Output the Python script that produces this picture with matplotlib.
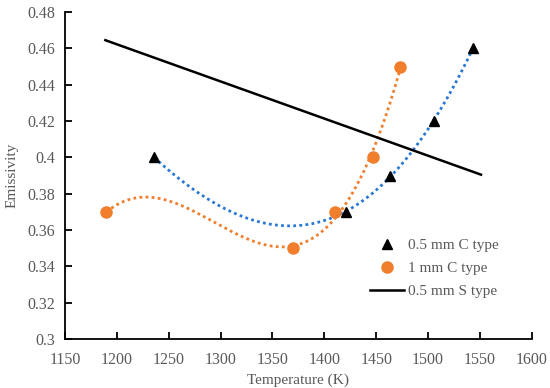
import numpy as np
import matplotlib.pyplot as plt

# 0.5 mm C type (triangles)
temp_c05 = [1236, 1421, 1463, 1506, 1543]
emis_c05 = [0.400, 0.370, 0.390, 0.420, 0.460]

# 1 mm C type (circles)
temp_c1 = [1190, 1370, 1410, 1447, 1473]
emis_c1 = [0.370, 0.350, 0.370, 0.400, 0.450]

# 0.5 mm S type (line)
temp_s05 = [1189, 1551]
emis_s05 = [0.4645, 0.3905]

plt.rcParams['font.family'] = ['Liberation Serif', 'DejaVu Serif']
gray = '#595959'

fig = plt.figure(figsize=(5.5, 3.88), dpi=100)
ax = fig.add_axes([0.118, 0.126, 0.849, 0.843])

# polynomial trendlines (Excel-style)
for t, e, col in [(temp_c05, emis_c05, '#2878D4'), (temp_c1, emis_c1, '#F07E2C')]:
    p = np.polyfit(t, e, 3)
    xs = np.linspace(min(t), max(t), 200)
    ax.plot(xs, np.polyval(p, xs), linestyle=(0, (1, 1.2)), color=col, lw=2)

ax.plot(temp_c05, emis_c05, '^', color='black', ms=7, label='0.5 mm C type', zorder=3)
ax.plot(temp_c1, emis_c1, 'o', color='#F07E2C', ms=8, label='1 mm C type', zorder=3)
ax.plot(temp_s05, emis_s05, '-', color='black', lw=1.8, label='0.5 mm S type')

ax.set_xlim(1150, 1600)
ax.set_ylim(0.3, 0.48)
ax.set_xticks(np.arange(1150, 1601, 50))
ax.set_yticks(np.arange(0.30, 0.481, 0.02))
ax.set_yticklabels(['0.3', '0.32', '0.34', '0.36', '0.38', '0.4', '0.42', '0.44', '0.46', '0.48'])

for s in ['top', 'right']:
    ax.spines[s].set_visible(False)
for s in ['left', 'bottom']:
    ax.spines[s].set_linewidth(1.3)
ax.tick_params(direction='in', length=5, width=1.3, labelsize=11.5, labelcolor=gray)
ax.tick_params(axis='x', pad=9)
ax.tick_params(axis='y', pad=7)

ax.set_xlabel('Temperature (K)', fontsize=11, color=gray, labelpad=4)
ax.set_ylabel('Emissivity', fontsize=11, color=gray, labelpad=6)

leg = ax.legend(loc='upper left', bbox_to_anchor=(0.624, 0.349), frameon=False,
                fontsize=11, handlelength=2.2, handletextpad=0.3, labelspacing=0.6)
for txt in leg.get_texts():
    txt.set_color(gray)

fig.savefig('out.png', dpi=100)
